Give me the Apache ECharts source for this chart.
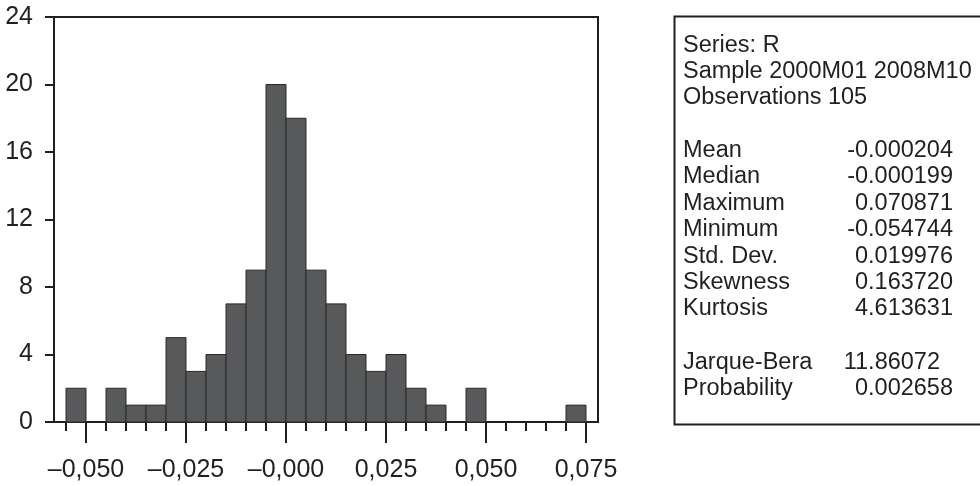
<!DOCTYPE html>
<html>
<head>
<meta charset="utf-8">
<script src="https://cdn.jsdelivr.net/npm/echarts@6/dist/echarts.min.js"></script>
<style>
html,body{margin:0;padding:0;background:#fff;}
#chart{width:980px;height:486px;}
</style>
</head>
<body>
<div id="chart"></div>
<script>
// Histogram bins (lower edge) and counts
const binStart = [-0.055,-0.050,-0.045,-0.040,-0.035,-0.030,-0.025,-0.020,-0.015,-0.010,-0.005,0.000,0.005,0.010,0.015,0.020,0.025,0.030,0.035,0.040,0.045,0.050,0.055,0.060,0.065,0.070];
const binEnd   = [-0.050,-0.045,-0.040,-0.035,-0.030,-0.025,-0.020,-0.015,-0.010,-0.005,0.000,0.005,0.010,0.015,0.020,0.025,0.030,0.035,0.040,0.045,0.050,0.055,0.060,0.065,0.070,0.075];
const counts   = [2,0,2,1,1,5,3,4,7,9,20,18,9,7,4,3,4,2,1,0,2,0,0,0,0,1];

// Axis ticks
const xMajorTicks = [-0.050,-0.025,0.000,0.025,0.050,0.075];
const xTickLabels = ['\u20130,050','\u20130,025','\u20130,000','0,025','0,050','0,075'];
const xMinorTicks = [-0.055,-0.045,-0.040,-0.035,-0.030,-0.020,-0.015,-0.010,-0.005,0.005,0.010,0.015,0.020,0.030,0.035,0.040,0.045,0.055,0.060,0.065,0.070];
const yTicks = [0,4,8,12,16,20,24];

// Statistics panel
const headerLines = ['Series: R','Sample 2000M01 2008M10','Observations 105'];
const statNames  = ['Mean','Median','Maximum','Minimum','Std. Dev.','Skewness','Kurtosis'];
const statValues = ['-0.000204','-0.000199','0.070871','-0.054744','0.019976','0.163720','4.613631'];
const testNames  = ['Jarque-Bera','Probability'];
const testValues = ['11.86072','0.002658'];

const FONT = '"Liberation Sans", Arial, sans-serif';
const FS = 23.5;     // stats panel
const AFS = 25;      // axis labels
const TXT = '#231f20';

const chart = echarts.init(document.getElementById('chart'), null, {renderer:'canvas'});

const data = binStart.map((s,i)=>[s, binEnd[i], counts[i]]).filter(d=>d[2]>0);

function labelFor(v){
  let best = 0, bd = Infinity;
  xMajorTicks.forEach((t,i)=>{ const d=Math.abs(t-v); if(d<bd){bd=d;best=i;} });
  return xTickLabels[best];
}

// graphic text for stats panel
const graphics = [];
graphics.push({
  type:'rect', left:672, top:14, z:10,
  shape:{x:0,y:0,width:330,height:408},
  style:{fill:'none', stroke:'#231f20', lineWidth:2}
});
const textLeft = 683, valRight = 953;
const headerY = [45.5, 72, 98];
headerLines.forEach((t,i)=>graphics.push({
  type:'text', x:textLeft, y:headerY[i], z:11,
  style:{text:t, font:`${FS}px ${FONT}`, fill:TXT, textVerticalAlign:'middle', textAlign:'left'}
}));
const statY = [151,177,203.5,230,256.5,282.5,308.5];
statNames.forEach((t,i)=>{
  graphics.push({type:'text', x:textLeft, y:statY[i], z:11,
    style:{text:t, font:`${FS}px ${FONT}`, fill:TXT, textVerticalAlign:'middle', textAlign:'left'}});
  graphics.push({type:'text', x:valRight, y:statY[i], z:11,
    style:{text:statValues[i], font:`${FS}px ${FONT}`, fill:TXT, textVerticalAlign:'middle', textAlign:'right'}});
});
const testY = [362.5,388.5];
const testRight = [940, 953];
testNames.forEach((t,i)=>{
  graphics.push({type:'text', x:textLeft, y:testY[i], z:11,
    style:{text:t, font:`${FS}px ${FONT}`, fill:TXT, textVerticalAlign:'middle', textAlign:'left'}});
  graphics.push({type:'text', x:testRight[i], y:testY[i], z:11,
    style:{text:testValues[i], font:`${FS}px ${FONT}`, fill:TXT, textVerticalAlign:'middle', textAlign:'right'}});
});

chart.setOption({
  animation:false,
  backgroundColor:'#ffffff',
  grid:{left:54, right:382, top:17, bottom:64, show:true, borderColor:'#231f20', borderWidth:2, backgroundColor:'transparent'},
  xAxis:[{
    type:'value', min:-0.058, max:0.078, position:'bottom',
    axisLine:{show:true, onZero:false, lineStyle:{color:'#231f20', width:2}},
    axisTick:{show:true, customValues:xMajorTicks, length:21, lineStyle:{color:'#231f20', width:2}},
    axisLabel:{show:true, customValues:xMajorTicks, formatter:labelFor, margin:36, fontSize:AFS, fontFamily:FONT, color:TXT},
    splitLine:{show:false}
  },{
    type:'value', min:-0.058, max:0.078, position:'bottom',
    axisLine:{show:false, onZero:false},
    axisTick:{show:true, customValues:xMinorTicks, length:9, lineStyle:{color:'#231f20', width:2}},
    axisLabel:{show:false},
    splitLine:{show:false}
  }],
  yAxis:{
    type:'value', min:0, max:24, interval:4,
    axisLine:{show:true, onZero:false, lineStyle:{color:'#231f20', width:2}},
    axisTick:{show:true, length:9, lineStyle:{color:'#231f20', width:2}},
    axisLabel:{show:true, margin:21, fontSize:AFS, fontFamily:FONT, color:TXT,
      formatter:(v)=>String(yTicks[yTicks.indexOf(v)] ?? v)},
    splitLine:{show:false}
  },
  series:[{
    type:'custom', xAxisIndex:0, yAxisIndex:0,
    data:data,
    renderItem:(params, api)=>{
      const p0 = api.coord([api.value(0), 0]);
      const p1 = api.coord([api.value(1), api.value(2)]);
      return {type:'rect',
        shape:{x:p0[0], y:p1[1], width:p1[0]-p0[0], height:p0[1]-p1[1]},
        style:{fill:'#58595b', stroke:'#2a2a2a', lineWidth:1}};
    }
  }],
  graphic:graphics
});
</script>
</body>
</html>
